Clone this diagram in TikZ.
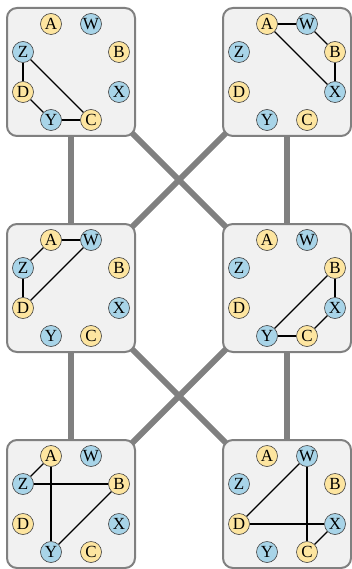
\documentclass[tikz,border=0pt]{standalone}
\usepackage{fontspec}
\setmainfont{Liberation Serif}
\usetikzlibrary{positioning}
\definecolor{nodeYellow}{HTML}{FDE5A0}
\definecolor{nodeBlue}{HTML}{A8D4E8}
\definecolor{panelFill}{HTML}{F1F1F1}
\definecolor{panelEdge}{HTML}{808080}
\definecolor{linkGray}{HTML}{808080}
\pgfdeclarelayer{background}
\pgfsetlayers{background,main}

% eight lettered vertices round the centre of a panel
\newcommand{\octet}[1]{%
  \foreach \lbl/\dx/\dy/\col in {A/-20/-48/nodeYellow, W/20/-48/nodeBlue,
      B/48/-20/nodeYellow, X/48/20/nodeBlue, C/20/48/nodeYellow,
      Y/-20/48/nodeBlue, D/-48/20/nodeYellow, Z/-48/-20/nodeBlue}
    \node[vertex, fill=\col] (#1\lbl) at ([shift={(\dx,\dy)}]#1.center) {\lbl};
}

\begin{document}
\begin{tikzpicture}[
    x=1pt, y=-1pt,
    panel/.style={rectangle, draw=panelEdge, fill=panelFill, line width=2pt, rounded corners=10pt, minimum width=128pt, minimum height=128pt},
    vertex/.style={circle, draw=black!75, line width=0.6pt, minimum size=21pt, inner sep=0pt, font=\fontsize{17}{17}\selectfont},
    link/.style={draw=linkGray, line width=6pt},
    edge/.style={black, line width=1.2pt}
]
    \useasboundingbox (0,0) rectangle (352,569);

    \node[panel] (p1) at (71,72) {};
    \node[panel] (p2) at (287,72) {};
    \node[panel] (p3) at (71,288) {};
    \node[panel] (p4) at (287,288) {};
    \node[panel] (p5) at (71,504) {};
    \node[panel] (p6) at (287,504) {};

    \begin{pgfonlayer}{background}
        \draw[link] (p1.center) -- (p3.center);
        \draw[link] (p2.center) -- (p4.center);
        \draw[link] (p1.center) -- (p4.center);
        \draw[link] (p2.center) -- (p3.center);
        \draw[link] (p3.center) -- (p5.center);
        \draw[link] (p4.center) -- (p6.center);
        \draw[link] (p3.center) -- (p6.center);
        \draw[link] (p4.center) -- (p5.center);
    \end{pgfonlayer}

    \octet{p1}
    \octet{p2}
    \octet{p3}
    \octet{p4}
    \octet{p5}
    \octet{p6}

    \draw[edge] (p1Z) -- (p1D);
    \draw[edge] (p1Z) -- (p1C);
    \draw[edge] (p1D) -- (p1Y);
    \draw[edge] (p1Y) -- (p1C);

    \draw[edge] (p2A) -- (p2W);
    \draw[edge] (p2W) -- (p2B);
    \draw[edge] (p2B) -- (p2X);
    \draw[edge] (p2A) -- (p2X);

    \draw[edge] (p3A) -- (p3W);
    \draw[edge] (p3A) -- (p3Z);
    \draw[edge] (p3Z) -- (p3D);
    \draw[edge] (p3D) -- (p3W);

    \draw[edge] (p4B) -- (p4X);
    \draw[edge] (p4B) -- (p4Y);
    \draw[edge] (p4Y) -- (p4C);
    \draw[edge] (p4C) -- (p4X);

    \draw[edge] (p5A) -- (p5Z);
    \draw[edge] (p5A) -- (p5Y);
    \draw[edge] (p5Z) -- (p5B);
    \draw[edge] (p5B) -- (p5Y);

    \draw[edge] (p6W) -- (p6D);
    \draw[edge] (p6W) -- (p6C);
    \draw[edge] (p6D) -- (p6X);
    \draw[edge] (p6X) -- (p6C);
\end{tikzpicture}
\end{document}
